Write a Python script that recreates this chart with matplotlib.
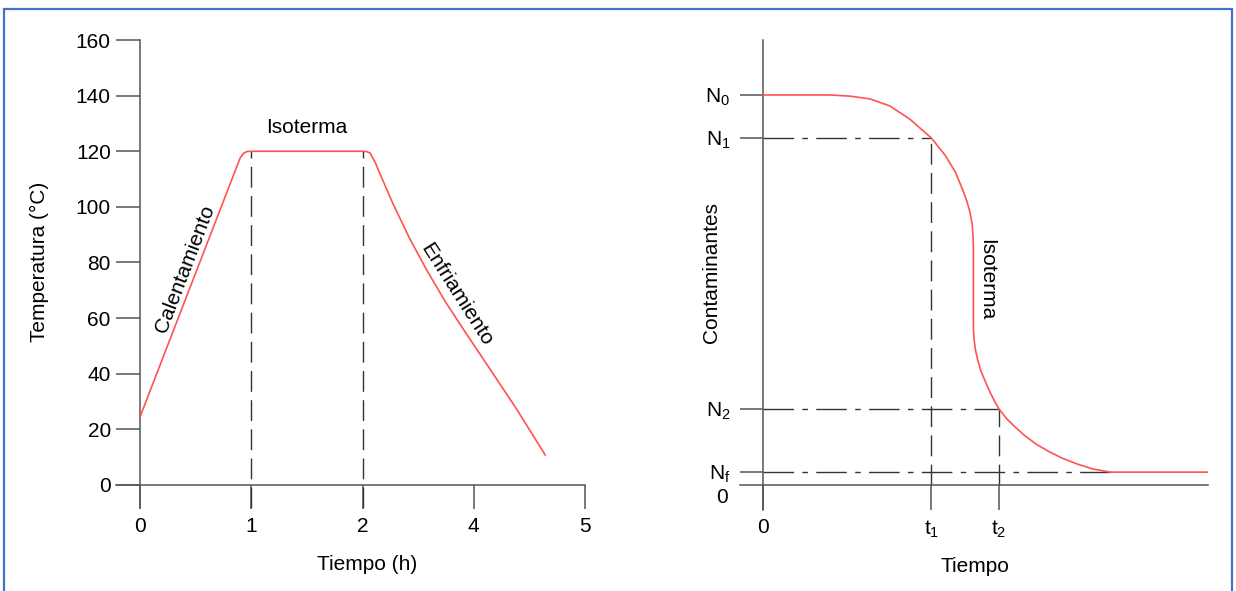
import matplotlib
matplotlib.use('Agg')
import matplotlib.pyplot as plt
from matplotlib.patches import Rectangle

plt.rcParams['font.family'] = ['Liberation Sans', 'DejaVu Sans']
plt.rcParams['mathtext.fontset'] = 'custom'
plt.rcParams['mathtext.rm'] = 'Liberation Sans'
plt.rcParams['mathtext.it'] = 'Liberation Sans:italic'
plt.rcParams['lines.scale_dashes'] = False

# --- Datos: ciclo de temperatura (eje x en posiciones de marca) ---
tiempo_pos = [0.0, 0.90, 0.93, 0.96, 1.0, 2.0, 2.035, 2.068, 2.113, 2.158,
              2.275, 2.428, 2.581, 2.743, 2.923, 3.147, 3.390, 3.642]
temperatura = [24.5, 117.6, 119.2, 119.9, 120, 120, 119.9, 119.4, 116.1, 111.8,
               101.0, 88.3, 77.0, 66.0, 55.0, 41.6, 27.0, 10.8]
x_ticks_izq = [0, 1, 2, 3, 4]
x_labels_izq = ['0', '1', '2', '4', '5']
y_ticks_izq = [0, 20, 40, 60, 80, 100, 120, 140, 160]
lineas_isoterma = [1, 2]
T_isoterma = 120

# --- Datos: curva de contaminantes (unidades arbitrarias) ---
tiempo_c = [0.0, 1.51, 1.96, 2.40, 2.85, 3.30, 3.78, 4.09, 4.32, 4.49, 4.58,
            4.65, 4.70, 4.72, 4.728, 4.728, 4.742, 4.775, 4.831, 4.899, 4.989,
            5.101, 5.213, 5.303, 5.483, 5.663, 5.888, 6.135, 6.404, 6.719,
            7.056, 7.416, 7.798, 10.0]
contaminantes = [100, 100, 99.7, 99.0, 97.2, 93.8, 89.0, 84.6, 80.3, 75.6, 72.8,
                 70.0, 66.9, 63.8, 60.3, 40.3, 37.4, 34.6, 31.8, 29.2, 26.7,
                 23.8, 21.3, 19.5, 16.9, 14.9, 12.6, 10.5, 8.7, 6.9,
                 5.4, 4.1, 3.3, 3.3]
N_vals = [100, 89.0, 19.5, 3.3]
N_labels = ['N$_0$', 'N$_1$', 'N$_2$', 'N$_\\mathrm{f}$']
t_vals = [0, 3.78, 5.303]
t_labels = ['0', 't$_1$', 't$_2$']
t_fin = 7.8

ROJO = '#ff5252'
GRIS = '#555555'
NEGRO = '#333333'
DASH = (0, (15, 6))
DASHDOT = (0, (22, 6, 4, 6))
FS = 15

fig = plt.figure(figsize=(12.36, 5.91), dpi=100)

# ---------- Gráfico izquierdo ----------
ax1 = fig.add_axes([116 / 1236, 1 - 508 / 591, 469 / 1236, 468 / 591])
ax1.set_xlim(-0.216, 4.0)
ax1.set_ylim(-8.27, 160)
for s in ['top', 'right']:
    ax1.spines[s].set_visible(False)
ax1.spines['left'].set_position(('data', 0))
ax1.spines['bottom'].set_position(('data', 0))
for s in ['left', 'bottom']:
    ax1.spines[s].set_color(GRIS)
    ax1.spines[s].set_linewidth(1.1)
ax1.set_xticks(x_ticks_izq)
ax1.set_xticklabels(x_labels_izq)
ax1.set_yticks(y_ticks_izq)
ax1.tick_params(axis='y', direction='out', length=17, width=1.1, color=GRIS,
                pad=4, labelsize=FS)
ax1.tick_params(axis='x', direction='out', length=17, width=1.1, color=GRIS,
                pad=6, labelsize=FS)

ax1.vlines(lineas_isoterma, -8.27, T_isoterma, colors=NEGRO, lw=1.0,
           linestyles=[DASH], zorder=3)
ax1.plot(tiempo_pos, temperatura, color=ROJO, lw=1.2, zorder=4)

ax1.text(1.495, 128.4, 'Isoterma', fontsize=FS, ha='center', va='center')
ax1.text(0.405, 77.7, 'Calentamiento', fontsize=FS, ha='center', va='center',
         rotation=69, rotation_mode='anchor')
ax1.text(2.847, 68.3, 'Enfriamiento', fontsize=FS, ha='center', va='center',
         rotation=-57.5, rotation_mode='anchor')

ax1.set_xlabel('Tiempo (h)', fontsize=FS)
ax1.xaxis.set_label_coords(0.535, -0.10)
ax1.set_ylabel('Temperatura (°C)', fontsize=FS)
ax1.yaxis.set_label_coords(-0.142, 0.526)

# ---------- Gráfico derecho ----------
ax2 = fig.add_axes([740 / 1236, 1 - 510 / 591, 468 / 1236, 470 / 591])
ax2.set_xlim(-0.517, 10.0)
ax2.set_ylim(-6.41, 114.1)
for s in ['top', 'right']:
    ax2.spines[s].set_visible(False)
ax2.spines['left'].set_position(('data', 0))
ax2.spines['bottom'].set_position(('data', 0))
for s in ['left', 'bottom']:
    ax2.spines[s].set_color(GRIS)
    ax2.spines[s].set_linewidth(1.1)
ax2.set_yticks(N_vals)
ax2.set_yticklabels(N_labels)
ax2.set_xticks(t_vals)
ax2.set_xticklabels(t_labels)
ax2.tick_params(axis='y', direction='out', length=16.5, width=1.1, color=GRIS,
                pad=7, labelsize=FS)
ax2.tick_params(axis='x', direction='out', length=18, width=1.1, color=GRIS,
                pad=6, labelsize=FS)

# líneas guía
ax2.hlines([N_vals[1], N_vals[2]], 0, [t_vals[1], t_vals[2]], colors=NEGRO,
           lw=1.0, linestyles=[DASHDOT])
ax2.hlines(N_vals[3], 0, t_fin, colors=NEGRO, lw=1.0, linestyles=[DASHDOT])
ax2.vlines([t_vals[1], t_vals[2]], 0, [N_vals[1], N_vals[2]], colors=NEGRO,
           lw=1.0, linestyles=[DASH])
ax2.plot(tiempo_c, contaminantes, color=ROJO, lw=1.2, zorder=4)

ax2.text(5.03, 52.6, 'Isoterma', fontsize=FS, ha='center', va='center',
         rotation=-90)
ax2.text(-0.92, -3.1, '0', fontsize=FS, ha='center', va='center', clip_on=False)

ax2.set_xlabel('Tiempo', fontsize=FS)
ax2.xaxis.set_label_coords(0.502, -0.10)
ax2.set_ylabel('Contaminantes', fontsize=FS)
ax2.yaxis.set_label_coords(-0.041, 0.506)

# marco azul
fig.patches.append(Rectangle((4 / 1236, -0.02), 1228 / 1236, 1 - 9 / 591 + 0.02,
                             transform=fig.transFigure, fill=False,
                             edgecolor='#4472c4', lw=1.6))

fig.savefig('out.png', dpi=100)
